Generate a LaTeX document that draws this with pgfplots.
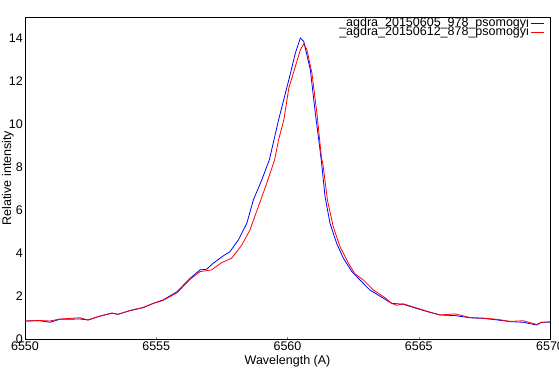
\documentclass[border=0pt]{standalone}
\usepackage{pgfplots}
\pgfplotsset{compat=1.18}
\usepackage{fontspec}
\setmainfont{Liberation Sans}
\begin{document}
\fontsize{12.5}{14}\selectfont
\begin{tikzpicture}
\begin{axis}[
  scale only axis,
  width=525pt, height=322pt,
  xmin=6550, xmax=6570, ymin=0, ymax=15,
  xtick={6550,6555,6560,6565,6570},
  ytick={0,2,4,6,8,10,12,14},
  xtick pos=bottom, ytick pos=left,
  tick align=inside,
  major tick length=2pt,
  ytick style={draw=none},
  axis line style={line width=0.8pt},
  xticklabel style={anchor=north, inner sep=0pt, yshift=-3pt},
  yticklabel style={anchor=east, inner sep=0pt, xshift=-2pt},
  /pgf/number format/assume math mode=true,
  /pgf/number format/1000 sep={},
  xlabel={Wavelength (A)},
  ylabel={Relative intensity},
  every axis x label/.style={at={(axis description cs:0.5,0)}, anchor=north, inner sep=0pt, yshift=-16pt},
  every axis y label/.style={at={(axis description cs:0,0.5)}, xshift=-17pt, rotate=90, anchor=center, inner sep=0pt},
  legend plot pos=right,
  legend cell align=right,
  legend image code/.code={\draw[#1] (0pt,0pt) -- (13pt,0pt);},
  legend style={draw=none, fill=none, at={(rel axis cs:1,1)}, anchor=north east,
    xshift=-5pt, yshift=-2pt, inner sep=0pt, column sep=2pt, row sep=0pt,
    nodes={inner sep=0pt, text height=7pt, text depth=2pt}},
]
\addplot[blue, line width=0.8pt] coordinates {
(6550.0,0.84) (6550.57,0.85) (6550.95,0.78) (6551.33,0.92) (6552.10,0.93)
(6552.40,0.89) (6552.86,1.07) (6553.31,1.20) (6553.54,1.15) (6554.0,1.32)
(6554.50,1.46) (6554.88,1.66) (6555.26,1.82) (6555.79,2.2) (6556.29,2.83)
(6556.67,3.22) (6556.92,3.25) (6557.17,3.53) (6557.55,3.87) (6557.81,4.07)
(6558.13,4.62) (6558.45,5.39) (6558.70,6.48) (6559.02,7.41) (6559.31,8.35)
(6559.66,10.21) (6560.05,12.07) (6560.30,13.32) (6560.49,14.02) (6560.62,13.86)
(6560.87,12.54) (6561.06,10.52) (6561.19,9.28)
(6561.30,8.19) (6561.43,6.63) (6561.62,5.39) (6561.87,4.46) (6562.13,3.76)
(6562.45,3.14) (6562.76,2.75) (6563.14,2.28) (6563.52,2.0) (6563.97,1.66)
(6564.41,1.62) (6564.98,1.40) (6565.43,1.24) (6565.81,1.12) (6566.38,1.09)
(6566.95,0.99) (6567.46,0.96) (6567.97,0.89) (6568.48,0.81) (6568.98,0.78)
(6569.49,0.65) (6569.68,0.78) (6570.0,0.78)
};
\addlegendentry{\_agdra\_20150605\_978\_psomogyi}
\addplot[red, line width=0.8pt] coordinates {
(6550.0,0.84) (6550.57,0.86) (6550.95,0.84) (6551.33,0.93) (6552.10,0.99)
(6552.40,0.88) (6552.86,1.07) (6553.31,1.21) (6553.54,1.15) (6554.0,1.33)
(6554.50,1.47) (6554.88,1.65) (6555.26,1.80) (6555.79,2.15) (6556.29,2.78)
(6556.67,3.14) (6557.11,3.22) (6557.49,3.56) (6557.87,3.76) (6558.26,4.38)
(6558.57,5.08) (6558.89,6.17) (6559.21,7.26) (6559.51,8.35) (6559.66,9.28)
(6559.86,10.21) (6560.05,11.69) (6560.30,12.70) (6560.49,13.47) (6560.62,13.75)
(6560.74,13.47) (6560.93,12.39) (6561.12,10.52) (6561.29,8.5) (6561.36,8.05)
(6561.52,6.48)
(6561.74,5.24) (6562.0,4.30) (6562.32,3.53) (6562.57,3.03) (6562.89,2.75)
(6563.27,2.28) (6563.71,1.93) (6563.97,1.66) (6564.16,1.57) (6564.41,1.64)
(6564.98,1.42) (6565.43,1.25) (6565.81,1.12) (6566.38,1.17) (6566.95,1.0)
(6567.46,0.97) (6567.97,0.92) (6568.48,0.82) (6568.98,0.85) (6569.49,0.68)
(6569.68,0.78) (6570.0,0.80)
};
\addlegendentry{\_agdra\_20150612\_878\_psomogyi}
\end{axis}
\pgfresetboundingbox
\path ([shift={(-25pt,-28pt)}]current axis.south west) rectangle ([shift={(9pt,17pt)}]current axis.north east);
\end{tikzpicture}
\end{document}
